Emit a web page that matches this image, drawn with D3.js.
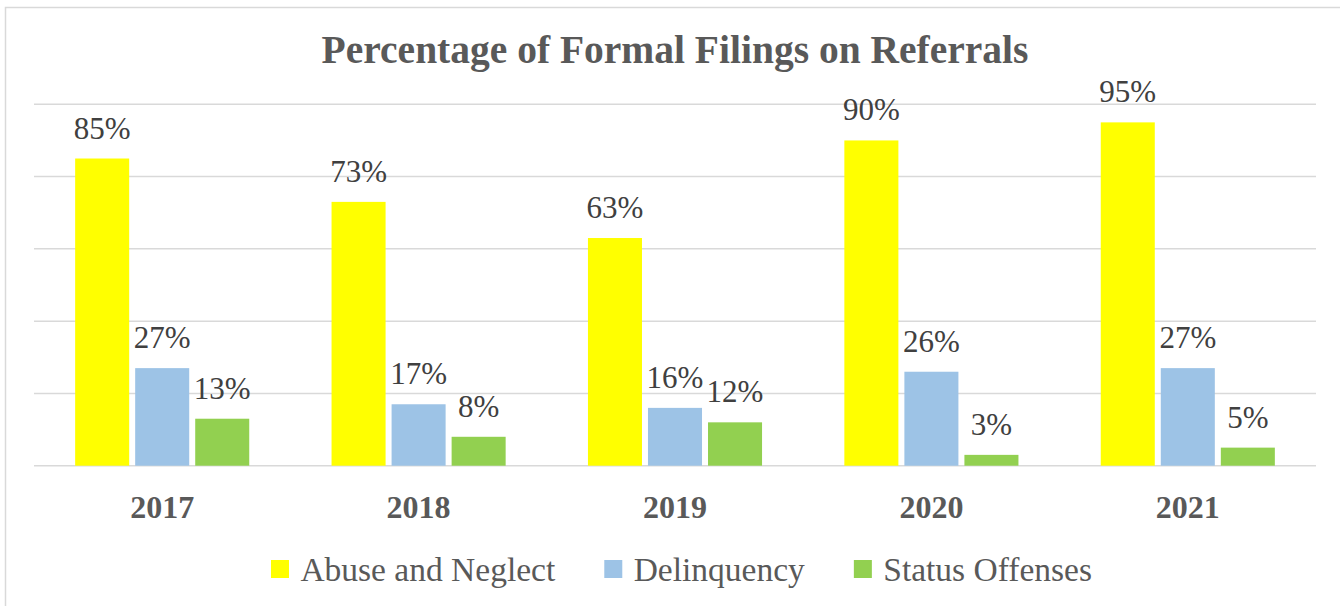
<!DOCTYPE html>
<html>
<head>
<meta charset="utf-8">
<script src="https://cdn.jsdelivr.net/npm/d3@7"></script>
<style>
  html, body { margin: 0; padding: 0; background: #fff; }
  svg { display: block; }
  text { font-family: "Liberation Serif", "Times New Roman", serif; }
</style>
</head>
<body>
<svg id="chart" width="1340" height="606"></svg>
<script>
// ---- data ----
const years = ["2017", "2018", "2019", "2020", "2021"];
const seriesNames = ["Abuse and Neglect", "Delinquency", "Status Offenses"];
const abuseNeglect = [0.85, 0.73, 0.63, 0.90, 0.95];
const delinquency = [0.27, 0.17, 0.16, 0.26, 0.27];
const statusOffenses = [0.13, 0.08, 0.12, 0.03, 0.05];
const seriesColors = ["#FFFF00", "#9DC3E6", "#92D050"];
const yTicks = [0, 0.2, 0.4, 0.6, 0.8, 1.0];
const titleText = "Percentage of Formal Filings on Referrals";

const seriesValues = [abuseNeglect, delinquency, statusOffenses];

const svg = d3.select("#chart");
const W = 1340, H = 606;

// chart border (extends beyond the viewport on right/bottom)
svg.append("rect")
  .attr("x", 5.5).attr("y", 7.5)
  .attr("width", W + 20).attr("height", H + 20)
  .attr("fill", "#fff")
  .attr("stroke", "#D9D9D9").attr("stroke-width", 1.5);

const plot = { left: 34, right: 1316, top: 104.3, bottom: 465.7 };

const x0 = d3.scaleBand()
  .domain(years)
  .range([plot.left, plot.right])
  .paddingInner(0.321)
  .paddingOuter(0.1605);

const x1 = d3.scaleBand()
  .domain(seriesNames)
  .range([0, x0.bandwidth()])
  .paddingInner(0.1)
  .paddingOuter(0);

const y = d3.scaleLinear()
  .domain([0, 1])
  .range([plot.bottom, plot.top]);

// gridlines
svg.append("g").selectAll("line")
  .data(yTicks)
  .join("line")
  .attr("x1", plot.left).attr("x2", plot.right)
  .attr("y1", d => y(d)).attr("y2", d => y(d))
  .attr("stroke", "#D9D9D9").attr("stroke-width", 1.5);

// title
svg.append("text")
  .attr("x", (plot.left + plot.right) / 2)
  .attr("y", 63.3)
  .attr("text-anchor", "middle")
  .attr("font-size", 39.5)
  .attr("font-weight", "bold")
  .attr("fill", "#595959")
  .text(titleText);

// bars
const flat = [];
years.forEach((yr, i) => {
  seriesNames.forEach((s, j) => {
    flat.push({ year: yr, series: s, value: seriesValues[j][i], color: seriesColors[j] });
  });
});

svg.append("g").selectAll("rect")
  .data(flat)
  .join("rect")
  .attr("x", d => x0(d.year) + x1(d.series))
  .attr("y", d => y(d.value))
  .attr("width", x1.bandwidth())
  .attr("height", d => y(0) - y(d.value))
  .attr("fill", d => d.color);

// data labels
const fmt = d3.format(".0%");
svg.append("g").selectAll("text")
  .data(flat)
  .join("text")
  .attr("x", d => x0(d.year) + x1(d.series) + x1.bandwidth() / 2)
  .attr("y", d => y(d.value) - 20)
  .attr("text-anchor", "middle")
  .attr("font-size", 31)
  .attr("fill", "#404040")
  .text(d => fmt(d.value));

// x axis labels
const xAxis = d3.axisBottom(x0).tickSize(0).tickPadding(0);
const gx = svg.append("g")
  .attr("transform", `translate(0, ${plot.bottom})`)
  .call(xAxis);
gx.select(".domain").remove();
gx.selectAll("text")
  .attr("dy", null)
  .attr("y", 518.3 - plot.bottom)
  .attr("font-family", "Liberation Serif, serif")
  .attr("font-size", 32)
  .attr("font-weight", "bold")
  .attr("fill", "#595959");

// legend
const legend = svg.append("g");
const items = legend.selectAll("g")
  .data(seriesNames)
  .join("g");
items.append("rect")
  .attr("x", 0).attr("y", 560)
  .attr("width", 18).attr("height", 18)
  .attr("fill", (d, i) => seriesColors[i]);
items.append("text")
  .attr("x", 29.4).attr("y", 580.7)
  .attr("font-size", 33.5)
  .attr("fill", "#595959")
  .text(d => d);

let widths = [];
items.each(function () {
  widths.push(29.4 + d3.select(this).select("text").node().getComputedTextLength());
});
const gap = 49;
const total = d3.sum(widths) + gap * (widths.length - 1);
let cx = 681.5 - total / 2;
items.attr("transform", (d, i) => {
  const t = `translate(${cx}, 0)`;
  cx += widths[i] + gap;
  return t;
});
</script>
</body>
</html>
